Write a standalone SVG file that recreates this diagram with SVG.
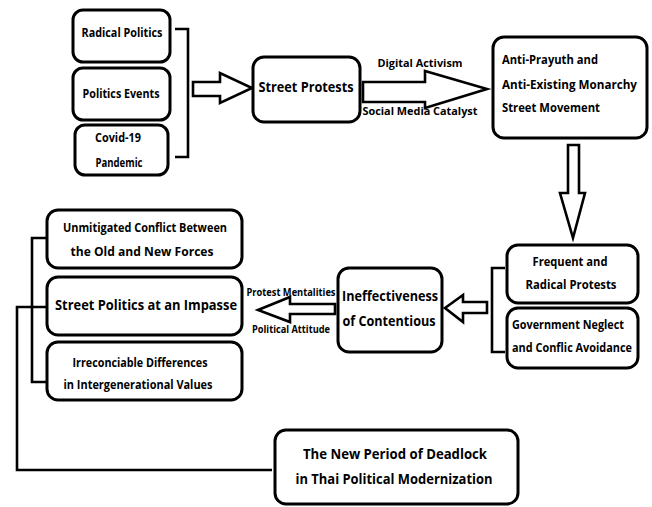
<svg xmlns="http://www.w3.org/2000/svg" width="652" height="507" viewBox="0 0 652 507">
<style>
.box{fill:#fff;stroke:#000;stroke-width:3}
.ln{fill:none;stroke:#000;stroke-width:2.6}
.arr{fill:#fff;stroke:#000;stroke-width:2.6;stroke-linejoin:miter}
text{font-family:"Open Sans","Liberation Sans",Arial,sans-serif;font-weight:bold;font-size:12px;fill:#000;text-anchor:middle}
.lg{font-size:13.5px}
.sm{font-size:10.5px}
.st{text-anchor:start}
</style>
<rect width="652" height="507" fill="#fff"/>
<g id="connectors">
<path class="ln" d="M175,29 H188 V157 H175"/>
<path class="ln" d="M505,268 H492 V352 H505"/>
<path class="ln" d="M47,238 H32 V382 H47"/>
<path class="ln" d="M47,307 H17 V470 H272"/>
<polygon class="arr" points="193,82 220,82 220,73 252,88 220,103 220,96 193,96"/>
<polygon class="arr" points="363,82 425,82 425,71 487,89 425,108 425,102 363,102"/>
<polygon class="arr" points="568,145 579,145 579,193 585,193 573,238 560,193 568,193"/>
<polygon class="arr" points="487,302 463,302 463,295 445,308 463,322 463,313 487,313"/>
<polygon class="arr" points="335,304 290,304 290,297 258,310 290,322 290,314 335,314"/>
<text class="sm" x="420" y="67" textLength="85" lengthAdjust="spacingAndGlyphs">Digital Activism</text>
<text class="sm" x="420" y="115" textLength="115" lengthAdjust="spacingAndGlyphs">Social Media Catalyst</text>
<text class="sm" x="291" y="296" font-size="10" textLength="89" lengthAdjust="spacingAndGlyphs">Protest Mentalities</text>
<text class="sm" x="291" y="333" font-size="10" textLength="78" lengthAdjust="spacingAndGlyphs">Political Attitude</text>
</g>
<g id="radical-politics">
<rect class="box" x="73" y="10" width="97" height="52" rx="10"/>
<text x="122" y="37" textLength="81" lengthAdjust="spacingAndGlyphs">Radical Politics</text>
</g>
<g id="politics-events">
<rect class="box" x="73" y="68" width="97" height="52" rx="10"/>
<text x="121" y="98" textLength="77" lengthAdjust="spacingAndGlyphs">Politics Events</text>
</g>
<g id="covid">
<rect class="box" x="75" y="125" width="93" height="50" rx="10"/>
<text x="118" y="142" textLength="46" lengthAdjust="spacingAndGlyphs">Covid-19</text>
<text x="119" y="167" textLength="47" lengthAdjust="spacingAndGlyphs">Pandemic</text>
</g>
<g id="street-protests">
<rect class="box" x="253" y="57" width="107" height="65" rx="11"/>
<text class="lg" x="306" y="92" textLength="95" lengthAdjust="spacingAndGlyphs">Street Protests</text>
</g>
<g id="anti-prayuth">
<rect class="box" x="493" y="37" width="154" height="101" rx="11"/>
<text class="st" x="502" y="64" textLength="96" lengthAdjust="spacingAndGlyphs">Anti-Prayuth and</text>
<text class="st" x="502" y="89" textLength="135" lengthAdjust="spacingAndGlyphs">Anti-Existing Monarchy</text>
<text class="st" x="502" y="112" textLength="98" lengthAdjust="spacingAndGlyphs">Street Movement</text>
</g>
<g id="frequent">
<rect class="box" x="507" y="245" width="131" height="58" rx="11"/>
<text x="570" y="266" textLength="75" lengthAdjust="spacingAndGlyphs">Frequent and</text>
<text x="571" y="289" textLength="91" lengthAdjust="spacingAndGlyphs">Radical Protests</text>
</g>
<g id="government">
<rect class="box" x="507" y="308" width="131" height="60" rx="11"/>
<text x="568" y="329" textLength="112" lengthAdjust="spacingAndGlyphs">Government Neglect</text>
<text x="572" y="352" textLength="120" lengthAdjust="spacingAndGlyphs">and Conflic Avoidance</text>
</g>
<g id="ineffectiveness">
<rect class="box" x="338" y="268" width="104" height="84" rx="11"/>
<text class="lg" x="390" y="301" textLength="96" lengthAdjust="spacingAndGlyphs">Ineffectiveness</text>
<text class="lg" x="389" y="326" textLength="93" lengthAdjust="spacingAndGlyphs">of Contentious</text>
</g>
<g id="unmitigated">
<rect class="box" x="47" y="210" width="195" height="58" rx="11"/>
<text x="145" y="232" textLength="164" lengthAdjust="spacingAndGlyphs">Unmitigated Conflict Between</text>
<text x="142" y="256" textLength="143" lengthAdjust="spacingAndGlyphs">the Old and New Forces</text>
</g>
<g id="street-politics">
<rect class="box" x="47" y="277" width="195" height="58" rx="11"/>
<text class="lg" x="146" y="310" textLength="182" lengthAdjust="spacingAndGlyphs">Street Politics at an Impasse</text>
</g>
<g id="irreconcilable">
<rect class="box" x="47" y="342" width="195" height="58" rx="11"/>
<text x="140" y="367" textLength="135" lengthAdjust="spacingAndGlyphs">Irreconciable Differences</text>
<text x="138" y="389" textLength="149" lengthAdjust="spacingAndGlyphs">in Intergenerational Values</text>
</g>
<g id="deadlock">
<rect class="box" x="275" y="430" width="243" height="74" rx="11"/>
<text class="lg" x="395" y="459" textLength="184" lengthAdjust="spacingAndGlyphs">The New Period of Deadlock</text>
<text class="lg" x="394" y="484" textLength="197" lengthAdjust="spacingAndGlyphs">in Thai Political Modernization</text>
</g>
</svg>
